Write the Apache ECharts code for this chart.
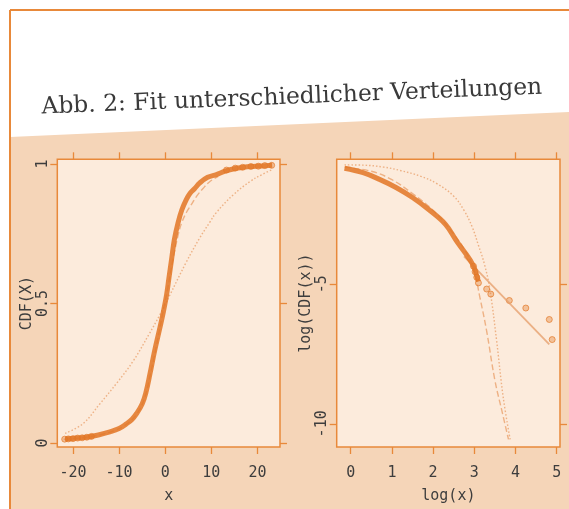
<!DOCTYPE html>
<html>
<head>
<meta charset="utf-8">
<script src="https://cdn.jsdelivr.net/npm/echarts@6/dist/echarts.min.js"></script>
<style>
html,body{margin:0;padding:0;background:#ffffff;}
#chart{width:569px;height:509px;}
</style>
</head>
<body>
<div id="chart"></div>
<script>
// ---- tick labels ----
const leftXTicks = [-20, -10, 0, 10, 20];
const leftYTicks = [0, 0.5, 1];
const rightXTicks = [0, 1, 2, 3, 4, 5];
const rightYTicks = [-10, -5];

// ---- left panel: CDF(X) vs x ----
const leftEmpirical = [
  [-21.7,0.015],[-19,0.018],[-17,0.021],[-14.5,0.029],[-12,0.040],[-10,0.052],
  [-8.5,0.068],[-7.2,0.085],[-6.2,0.106],[-5,0.14],[-4.2,0.18],[-3.3,0.248],
  [-2.3,0.33],[-1.15,0.413],[-0.4,0.47],[0.3,0.531],[0.8,0.59],[1.4,0.66],
  [2.0,0.73],[2.8,0.79],[3.6,0.835],[4.6,0.873],[5.4,0.895],[6.4,0.912],
  [7.5,0.932],[9.2,0.952],[11.1,0.962],[13,0.974],[15,0.983],[17,0.988],
  [19,0.991],[21,0.993],[23.2,0.995]
];
const leftTailPoints = [
  [-21.8,0.014],[-21,0.015],[-20,0.016],[-19,0.018],[-18,0.019],[-17,0.021],[-16,0.024],
  [13.3,0.978],[15.2,0.985],[16.8,0.988],[18.6,0.991],[20.2,0.992],[21.6,0.994],[23.1,0.995]
];
const leftFitNarrow = [
  [-22,0.014],[-18,0.019],[-14,0.03],[-11,0.045],[-8.5,0.066],[-6.2,0.103],[-4.5,0.16],
  [-3.3,0.24],[-2,0.34],[-0.6,0.46],[0.5,0.55],[1.6,0.65],[2.8,0.745],[3.6,0.79],
  [4.6,0.826],[5.7,0.855],[6.8,0.884],[8.2,0.912],[9.7,0.937],[11.5,0.955]
];
const leftFitWide = [
  [-21.7,0.035],[-17.8,0.07],[-14.2,0.14],[-10.5,0.215],[-6.9,0.295],[-3.5,0.39],
  [-1.15,0.46],[1.0,0.53],[4.6,0.649],[7.5,0.735],[9.7,0.792],[11.1,0.826],
  [14.8,0.89],[18.4,0.937],[21,0.962],[23.4,0.981]
];

// ---- right panel: log(CDF(x)) vs log(x) ----
const rightEmpirical = [
  [-0.15,-0.84],[0.3,-1.0],[0.7,-1.24],[1.1,-1.53],[1.5,-1.89],[1.9,-2.33],
  [2.3,-2.85],[2.57,-3.45],[2.82,-3.96],[2.95,-4.26],[3.02,-4.5],[3.06,-4.7],[3.1,-4.9]
];
const rightTailPoints = [
  [2.98,-4.35],[3.02,-4.55],[3.06,-4.75],[3.1,-4.95],
  [3.3,-5.17],[3.4,-5.35],[3.85,-5.58],[4.25,-5.85],[4.82,-6.26],[4.89,-6.98]
];
const rightFitPower = [[2.75,-4.0],[4.82,-7.15]];
const rightFitDashed = [
  [-0.15,-0.8],[0.5,-0.95],[1.0,-1.25],[1.5,-1.75],[2.0,-2.35],[2.5,-3.2],
  [2.8,-3.85],[2.98,-4.43],[3.14,-5.5],[3.3,-6.68],[3.5,-8.44],[3.68,-9.6],[3.83,-10.56]
];
const rightFitDotted = [
  [-0.15,-0.72],[0.3,-0.73],[0.8,-0.8],[1.2,-0.92],[1.7,-1.13],[2.1,-1.4],
  [2.5,-1.84],[2.75,-2.35],[2.95,-2.95],[3.1,-3.6],[3.25,-4.3],[3.38,-5.2],
  [3.54,-7.0],[3.70,-9.03],[3.87,-10.56]
];

const ORANGE = '#e8893a';
const DATA = 'rgba(226,118,36,0.85)';
const FIT = 'rgba(226,130,60,0.55)';
const TXT = '#3d3d3d';
const FONT = 'DejaVu Sans Mono';

function xAx(grid, min, max, ticks, pos, name) {
  const bottom = pos === 'bottom';
  return {
    gridIndex: grid, type: 'value', min: min, max: max, position: pos,
    axisLine: { show: false, onZero: false }, splitLine: { show: false },
    axisTick: { show: true, customValues: ticks, length: 7, inside: false,
      lineStyle: { color: ORANGE, width: 1.3 } },
    axisLabel: { show: bottom, customValues: ticks, margin: 19,
      color: TXT, fontFamily: FONT, fontSize: 15 },
    name: bottom ? name : '', nameLocation: 'middle', nameGap: 42,
    nameTextStyle: { color: TXT, fontFamily: FONT, fontSize: 15 }
  };
}
function yAx(grid, min, max, ticks, pos, name) {
  const left = pos === 'left';
  return {
    gridIndex: grid, type: 'value', min: min, max: max, position: pos,
    axisLine: { show: false, onZero: false }, splitLine: { show: false },
    axisTick: { show: true, customValues: ticks, length: 7, inside: false,
      lineStyle: { color: ORANGE, width: 1.3 } },
    axisLabel: { show: left, customValues: ticks, rotate: 90, margin: 7,
      color: TXT, fontFamily: FONT, fontSize: 15 },
    name: left ? name : '', nameLocation: 'middle', nameGap: 18, nameRotate: 90,
    nameTextStyle: { color: TXT, fontFamily: FONT, fontSize: 15 }
  };
}

const chart = echarts.init(document.getElementById('chart'), null, { renderer: 'canvas' });
chart.setOption({
  animation: false,
  backgroundColor: '#ffffff',
  graphic: [
    { type: 'polygon', z: -10, silent: true,
      shape: { points: [[10,137],[569,112],[569,509],[10,509]] },
      style: { fill: '#f5d5b8' } },
    { type: 'line', z: 10, silent: true, shape: { x1: 10, y1: 10, x2: 569, y2: 10 },
      style: { stroke: ORANGE, lineWidth: 2 } },
    { type: 'line', z: 10, silent: true, shape: { x1: 10, y1: 10, x2: 10, y2: 509 },
      style: { stroke: ORANGE, lineWidth: 2 } },
    { type: 'text', z: 10, silent: true, x: 42, y: 119, rotation: 0.040,
      style: { text: 'Abb. 2: Fit unterschiedlicher Verteilungen', fill: '#3a3a3a',
        font: '23.4px "DejaVu Serif"', textVerticalAlign: 'bottom', textAlign: 'left' } }
  ],
  grid: [
    { left: 57.3, top: 159.3, width: 222.7, height: 291.4, show: true,
      backgroundColor: '#fcebdc', borderColor: ORANGE, borderWidth: 1.5 },
    { left: 336.7, top: 159.3, width: 223.3, height: 291.4, show: true,
      backgroundColor: '#fcebdc', borderColor: ORANGE, borderWidth: 1.5 }
  ],
  xAxis: [
    xAx(0, -23.4, 24.9, leftXTicks, 'bottom', 'x'),
    xAx(0, -23.4, 24.9, leftXTicks, 'top', ''),
    xAx(1, -0.34, 5.08, rightXTicks, 'bottom', 'log(x)'),
    xAx(1, -0.34, 5.08, rightXTicks, 'top', '')
  ],
  yAxis: [
    yAx(0, -0.014, 1.0166, leftYTicks, 'left', 'CDF(X)'),
    yAx(0, -0.014, 1.0166, leftYTicks, 'right', ''),
    yAx(1, -10.83, -0.52, rightYTicks, 'left', 'log(CDF(x))'),
    yAx(1, -10.83, -0.52, rightYTicks, 'right', '')
  ],
  series: [
    { type: 'line', xAxisIndex: 0, yAxisIndex: 0, data: leftFitWide, smooth: 0.4,
      showSymbol: false, lineStyle: { color: FIT, width: 1.4, type: [1.5, 2] } },
    { type: 'line', xAxisIndex: 0, yAxisIndex: 0, data: leftFitNarrow, smooth: 0.4,
      showSymbol: false, lineStyle: { color: FIT, width: 1.4, type: [6, 3] } },
    { type: 'line', xAxisIndex: 0, yAxisIndex: 0, data: leftEmpirical, smooth: 0.4,
      showSymbol: false, lineStyle: { color: DATA, width: 5 } },
    { type: 'scatter', xAxisIndex: 0, yAxisIndex: 0, data: leftTailPoints, symbolSize: 6,
      itemStyle: { color: 'rgba(226,118,36,0.5)', borderColor: 'rgba(226,118,36,0.8)', borderWidth: 1 } },

    { type: 'line', xAxisIndex: 2, yAxisIndex: 2, data: rightFitDotted, smooth: 0.4,
      showSymbol: false, lineStyle: { color: FIT, width: 1.4, type: [1.5, 2] } },
    { type: 'line', xAxisIndex: 2, yAxisIndex: 2, data: rightFitDashed, smooth: 0.4,
      showSymbol: false, lineStyle: { color: FIT, width: 1.4, type: [6, 3] } },
    { type: 'line', xAxisIndex: 2, yAxisIndex: 2, data: rightFitPower,
      showSymbol: false, lineStyle: { color: 'rgba(230,160,110,0.8)', width: 1.8 } },
    { type: 'line', xAxisIndex: 2, yAxisIndex: 2, data: rightEmpirical, smooth: 0.4,
      showSymbol: false, lineStyle: { color: DATA, width: 5 } },
    { type: 'scatter', xAxisIndex: 2, yAxisIndex: 2, data: rightTailPoints, symbolSize: 6,
      itemStyle: { color: 'rgba(226,118,36,0.45)', borderColor: 'rgba(226,118,36,0.85)', borderWidth: 1 } }
  ]
});
</script>
</body>
</html>
